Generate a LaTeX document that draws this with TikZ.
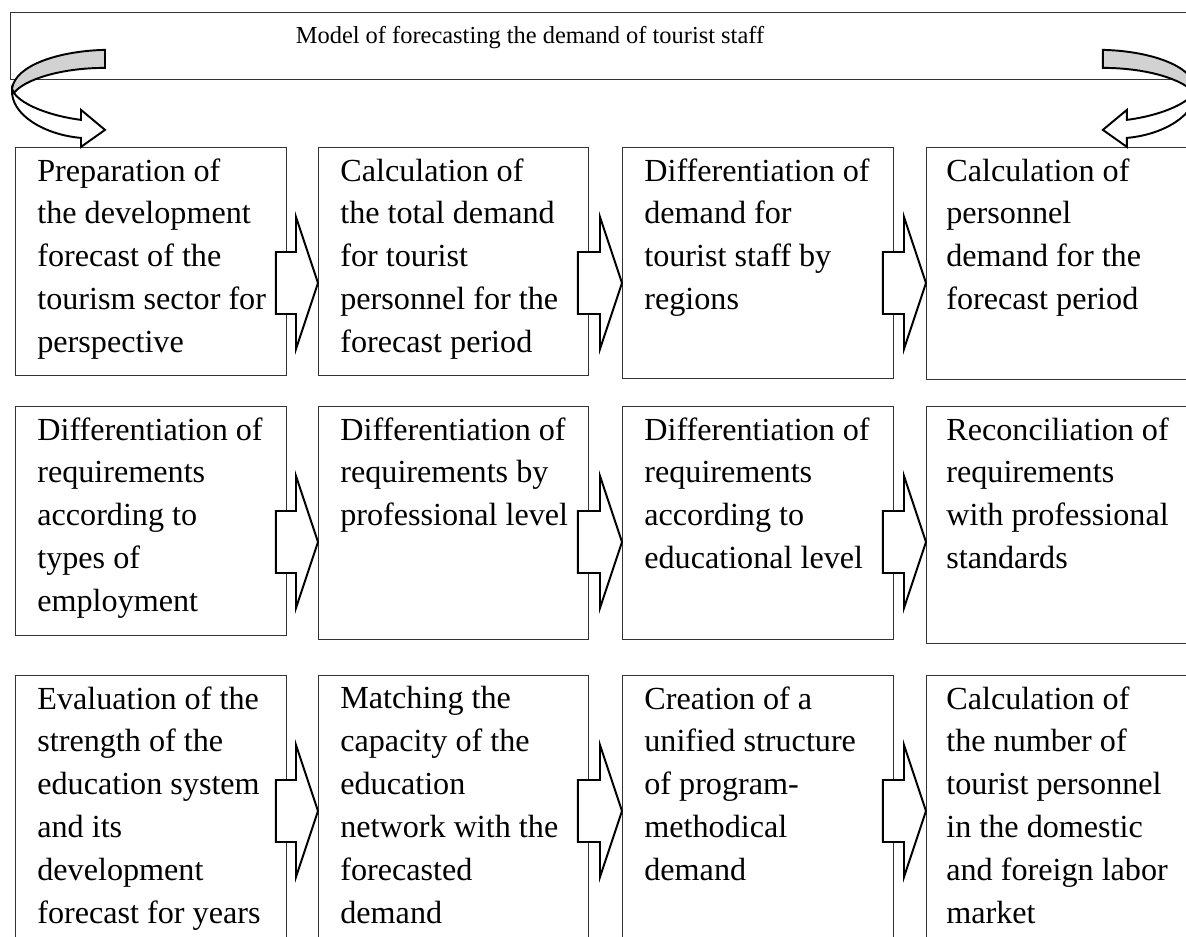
\documentclass[tikz,border=0pt]{standalone}
\usepackage{fontspec}
\setmainfont{Liberation Serif}
\usetikzlibrary{calc}

\tikzset{
  stagebox/.style={draw=black!80, line width=0.5pt, anchor=north west,
    minimum width=5.42cm, inner sep=0pt},
  stagetext/.style={anchor=north west, align=left, inner sep=0pt,
    font=\fontsize{18.3}{24.4}\selectfont},
  flow/.style={draw=black, line width=1.1pt, fill=white, line join=miter},
  foldarrow/.pic={
    \begin{scope}[x=0.02cm,y=-0.02cm]
      \filldraw[fill=white, draw=black, line width=1.1pt]
        (2,9) .. controls (0,35) and (35,55) .. (71,58) -- (71,67) -- (95,50)
        -- (71,30) -- (71,40) .. controls (40,36) and (12,25) .. (4,13) -- cycle;
      \filldraw[fill=gray!35, draw=black, line width=1.1pt]
        (95,-30) .. controls (50,-29) and (5,-15) .. (2,9) -- (4,13)
        .. controls (14,0) and (50,-12) .. (95,-12) -- cycle;
    \end{scope}
  }
}

\newcommand{\flowarrow}[2]{%
  \draw[flow] let \p1=(#1.north east), \p2=(#2.north west) in
    (\x2,\y2-2.72cm) -- (\x2-0.44cm,\y2-1.40cm) -- (\x2-0.44cm,\y2-2.10cm)
    -- (\x1-0.22cm,\y2-2.10cm) -- (\x1-0.22cm,\y2-3.34cm)
    -- (\x2-0.44cm,\y2-3.34cm) -- (\x2-0.44cm,\y2-4.04cm) -- cycle;}

\begin{document}
\begin{tikzpicture}
\useasboundingbox (0,0) rectangle (23.72,-18.72);
\clip (0,0) rectangle (23.72,-18.72);

\node[draw=black!80, line width=0.5pt, anchor=north west, minimum width=24.5cm,
  minimum height=1.34cm, inner sep=0pt] (frame) at (0.2,-0.24) {};
\node[font=\fontsize{13.9}{16}\selectfont] (title) at (10.6,-0.76)
  {Model of forecasting the demand of tourist staff};

\node[stagebox, minimum height=4.56cm] (b11) at (0.30,-2.94) {};
\node[stagebox, minimum height=4.56cm, minimum width=5.40cm] (b12) at (6.36,-2.94) {};
\node[stagebox, minimum height=4.62cm] (b13) at (12.44,-2.94) {};
\node[stagebox, minimum height=4.64cm] (b14) at (18.52,-2.94) {};

\node[stagebox, minimum height=4.58cm] (b21) at (0.30,-8.12) {};
\node[stagebox, minimum height=4.66cm, minimum width=5.40cm] (b22) at (6.36,-8.12) {};
\node[stagebox, minimum height=4.66cm] (b23) at (12.44,-8.12) {};
\node[stagebox, minimum height=4.74cm] (b24) at (18.52,-8.12) {};

\node[stagebox, minimum height=6cm] (b31) at (0.30,-13.50) {};
\node[stagebox, minimum height=6cm, minimum width=5.40cm] (b32) at (6.36,-13.50) {};
\node[stagebox, minimum height=6cm] (b33) at (12.44,-13.50) {};
\node[stagebox, minimum height=6cm] (b34) at (18.52,-13.50) {};

\node[stagetext] (t11) at ([shift={(0.44,-0.22)}]b11.north west)
  {Preparation of\\the development\\forecast of the\\tourism sector for\\perspective};
\node[stagetext] (t12) at ([shift={(0.44,-0.22)}]b12.north west)
  {Calculation of\\the total demand\\for tourist\\personnel for the\\forecast period};
\node[stagetext] (t13) at ([shift={(0.44,-0.22)}]b13.north west)
  {Differentiation of\\demand for\\tourist staff by\\regions};
\node[stagetext] (t14) at ([shift={(0.40,-0.22)}]b14.north west)
  {Calculation of\\personnel\\demand for the\\forecast period};

\node[stagetext] (t21) at ([shift={(0.44,-0.22)}]b21.north west)
  {Differentiation of\\requirements\\according to\\types of\\employment};
\node[stagetext] (t22) at ([shift={(0.44,-0.22)}]b22.north west)
  {Differentiation of\\requirements by\\professional level};
\node[stagetext] (t23) at ([shift={(0.44,-0.22)}]b23.north west)
  {Differentiation of\\requirements\\according to\\educational level};
\node[stagetext] (t24) at ([shift={(0.40,-0.22)}]b24.north west)
  {Reconciliation of\\requirements\\with professional\\standards};

\node[stagetext] (t31) at ([shift={(0.44,-0.22)}]b31.north west)
  {Evaluation of the\\strength of the\\education system\\and its\\development\\forecast for years};
\node[stagetext] (t32) at ([shift={(0.44,-0.22)}]b32.north west)
  {Matching the\\capacity of the\\education\\network with the\\forecasted\\demand};
\node[stagetext] (t33) at ([shift={(0.44,-0.22)}]b33.north west)
  {Creation of a\\unified structure\\of program-\\methodical\\demand};
\node[stagetext] (t34) at ([shift={(0.40,-0.22)}]b34.north west)
  {Calculation of\\the number of\\tourist personnel\\in the domestic\\and foreign labor\\market};

\flowarrow{b11}{b12}
\flowarrow{b12}{b13}
\flowarrow{b13}{b14}
\flowarrow{b21}{b22}
\flowarrow{b22}{b23}
\flowarrow{b23}{b24}
\flowarrow{b31}{b32}
\flowarrow{b32}{b33}
\flowarrow{b33}{b34}

\pic at (frame.south west) {foldarrow};
\pic[xscale=-1] at (b14.north east |- frame.south) {foldarrow};
\end{tikzpicture}
\end{document}
